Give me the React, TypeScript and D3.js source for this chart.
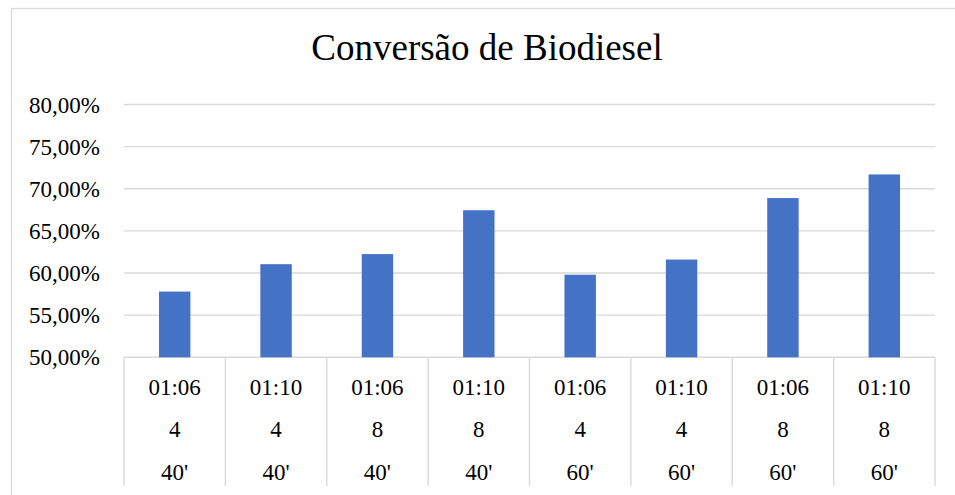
import React from "react";
import * as d3 from "d3";

const ratios = ["01:06", "01:10", "01:06", "01:10", "01:06", "01:10", "01:06", "01:10"];
const amounts = ["4", "4", "8", "8", "4", "4", "8", "8"];
const times = ["40'", "40'", "40'", "40'", "60'", "60'", "60'", "60'"];
const conversion = [57.8, 61.05, 62.25, 67.45, 59.8, 61.6, 68.9, 71.7];
const yTicks = [50, 55, 60, 65, 70, 75, 80];
const title = "Conversão de Biodiesel";

const W = 955;
const H = 495;
const FONT = "'Liberation Serif', 'Times New Roman', serif";
const GRID = "#d9d9d9";

export default function App() {
  const left = 124;
  const right = 935;
  const top = 104.5;
  const bottom = 357.3;
  const idx = conversion.map((_, i) => String(i));
  const x = d3.scaleBand<string>().domain(idx).range([left, right]).paddingInner(0).paddingOuter(0);
  const y = d3.scaleLinear().domain([50, 80]).range([bottom, top]);
  const bw = x.bandwidth() * 0.31;
  const fmt = (v: number) => v.toFixed(2).replace(".", ",") + "%";
  const rows = [ratios, amounts, times];
  const rowY = [387, 429, 471.5];
  const sepBottom = 486;
  const fs = 23;

  return (
    <div style={{ position: "absolute", left: 0, top: 0 }}>
      <svg width={W} height={H} style={{ display: "block", background: "#fff", fontFamily: FONT }}>
        <rect x={11.5} y={8.5} width={960} height={500} fill="#fff" stroke={GRID} strokeWidth={1.3} />
        <text x={487} y={60} textAnchor="middle" style={{ fontFamily: FONT, fontSize: 37 }} fill="#000">{title}</text>
        {yTicks.map((t) => (
          <g key={t}>
            <line x1={left} x2={right} y1={y(t)} y2={y(t)} stroke={GRID} strokeWidth={1.4} />
            <text x={100} y={y(t)} dy="0.35em" textAnchor="end" style={{ fontFamily: FONT, fontSize: fs }} fill="#000">{fmt(t)}</text>
          </g>
        ))}
        {conversion.map((v, i) => (
          <rect
            key={i}
            x={(x(String(i)) as number) + x.bandwidth() / 2 - bw / 2}
            y={y(v)}
            width={bw}
            height={y(50) - y(v)}
            fill="#4472c4"
          />
        ))}
        {d3.range(conversion.length + 1).map((i) => {
          const xx = i < conversion.length ? (x(String(i)) as number) : right;
          return <line key={"s" + i} x1={xx} x2={xx} y1={bottom} y2={sepBottom} stroke={GRID} strokeWidth={1.4} />;
        })}
        {rows.map((r, ri) =>
          r.map((lab, i) => (
            <text
              key={ri + "-" + i}
              x={(x(String(i)) as number) + x.bandwidth() / 2}
              y={rowY[ri]}
              dy="0.35em"
              textAnchor="middle"
              style={{ fontFamily: FONT, fontSize: fs }}
              fill="#000"
            >
              {lab}
            </text>
          ))
        )}
      </svg>
    </div>
  );
}
